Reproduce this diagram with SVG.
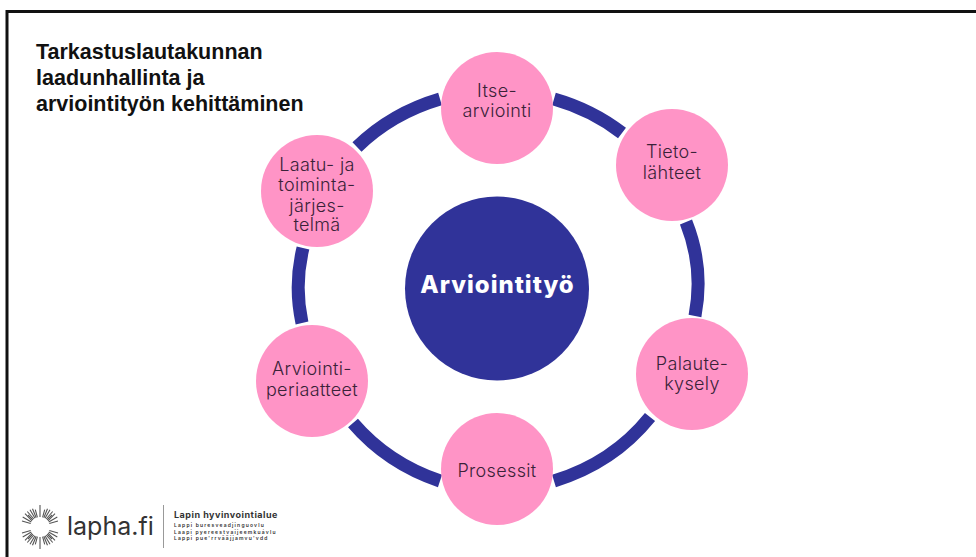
<svg xmlns="http://www.w3.org/2000/svg" width="976" height="557" viewBox="0 0 976 557">
<style>
.seg{fill:none;stroke:#303399;stroke-width:13}
.n{fill:#ff94c6}
.t{font-family:"Inter","Noto Sans",sans-serif;font-size:18px;font-weight:300;letter-spacing:.35px;fill:#3a2238;text-anchor:middle}
.title{font-family:"Liberation Sans",Arial,sans-serif;font-size:21.500px;font-weight:bold;fill:#111}
.ray{stroke:#555;stroke-width:1.100;fill:none}
.lg{font-family:"Inter","Noto Sans",sans-serif;fill:#333}
.sm{font-size:5px;font-weight:600;letter-spacing:1.200px}
</style>
<rect width="976" height="557" fill="#fff"/>
<path d="M7 557V11.500H976" fill="none" stroke="#111" stroke-width="3"/>
<g id="title"><text class="title"><tspan x="36" y="59">Tarkastuslautakunnan</tspan><tspan x="36" y="85">laadunhallinta ja</tspan><tspan x="36" y="111">arviointityön kehittäminen</tspan></text></g>
<g id="connectors">
<path class="seg" d="M554 99A197 181 0 0 1 622 133"/>
<path class="seg" d="M686 222A197 181 0 0 1 695 316"/>
<path class="seg" d="M650 417A197 181 0 0 1 554 481"/>
<path class="seg" d="M440 481A197 181 0 0 1 353 423"/>
<path class="seg" d="M302 323A197 181 0 0 1 303 248"/>
<path class="seg" d="M357 147A197 181 0 0 1 440 99"/>
</g>
<g id="center"><circle cx="497" cy="288.500" r="92" fill="#303399"/><text x="497.500" y="293" text-anchor="middle" style="font-family:Inter,'Noto Sans',sans-serif;font-size:24px;font-weight:800;letter-spacing:1px;fill:#fff">Arviointityö</text></g>
<g id="itse"><circle class="n" cx="497" cy="108" r="56"/><text class="t"><tspan x="497" y="97">Itse-</tspan><tspan x="497" y="117">arviointi</tspan></text></g>
<g id="tieto"><circle class="n" cx="672" cy="165" r="56"/><text class="t"><tspan x="672" y="158">Tieto-</tspan><tspan x="672" y="179">lähteet</tspan></text></g>
<g id="palaute"><circle class="n" cx="692" cy="374" r="56"/><text class="t"><tspan x="692" y="370">Palaute-</tspan><tspan x="692" y="390">kysely</tspan></text></g>
<g id="prosessit"><circle class="n" cx="497" cy="469" r="56"/><text class="t" x="497" y="477">Prosessit</text></g>
<g id="periaatteet"><circle class="n" cx="312" cy="381" r="56"/><text class="t"><tspan x="312" y="375">Arviointi-</tspan><tspan x="312" y="396">periaatteet</tspan></text></g>
<g id="laatu"><circle class="n" cx="317" cy="191" r="56"/><text class="t"><tspan x="317" y="171">Laatu- ja</tspan><tspan x="317" y="191">toiminta-</tspan><tspan x="317" y="212">järjes-</tspan><tspan x="317" y="231">telmä</tspan></text></g>
<g id="logo">
<path class="ray" d="M40 517V505M42.600 517.300L44.700 509.600M37.400 517.300L35.300 509.600M45 518.300L50 509.700M35 518.300L30 509.700M47.100 519.900L52 515M32.900 519.900L28 515M48.700 522L57.300 517M31.300 522L22.700 517M40 537V549M42.600 536.700L44.700 544.400M37.400 536.700L35.300 544.400M45 535.700L50 544.300M35 535.700L30 544.300M47.100 534.100L52 539M32.900 534.100L28 539M48.700 532L57.300 537M31.300 532L22.700 537"/>
<path class="ray" d="M43.800 517.800L47.500 508.800M36.200 517.800L32.500 508.800M46.200 519L52.700 511.500M33.800 519L27.300 511.500M48 520.800L55 513.700M32 520.800L25 513.700M49.300 523.500L58 521M30.700 523.500L22 521M43.800 536.200L47.500 545.200M36.200 536.200L32.500 545.200M46.200 535L52.700 542.500M33.800 535L27.300 542.500M48 533.200L55 540.300M32 533.200L25 540.300M49.300 530.500L58 533M30.700 530.500L22 533"/>
<text class="lg" x="67" y="535" font-size="25">lapha.fi</text>
<path d="M163.500 505V548" stroke="#999" stroke-width="1"/>
<text class="lg" x="174" y="518" font-size="9" font-weight="700" letter-spacing=".5">Lapin hyvinvointialue</text>
<text class="lg sm" x="174" y="527">Lappi buresveadjinguovlu</text>
<text class="lg sm" x="174" y="533.500">Laapi pyereestvaijeemkuávlu</text>
<text class="lg sm" x="174" y="540">Lappi pue'rrvâäjjamvu'vdd</text>
</g>
</svg>
